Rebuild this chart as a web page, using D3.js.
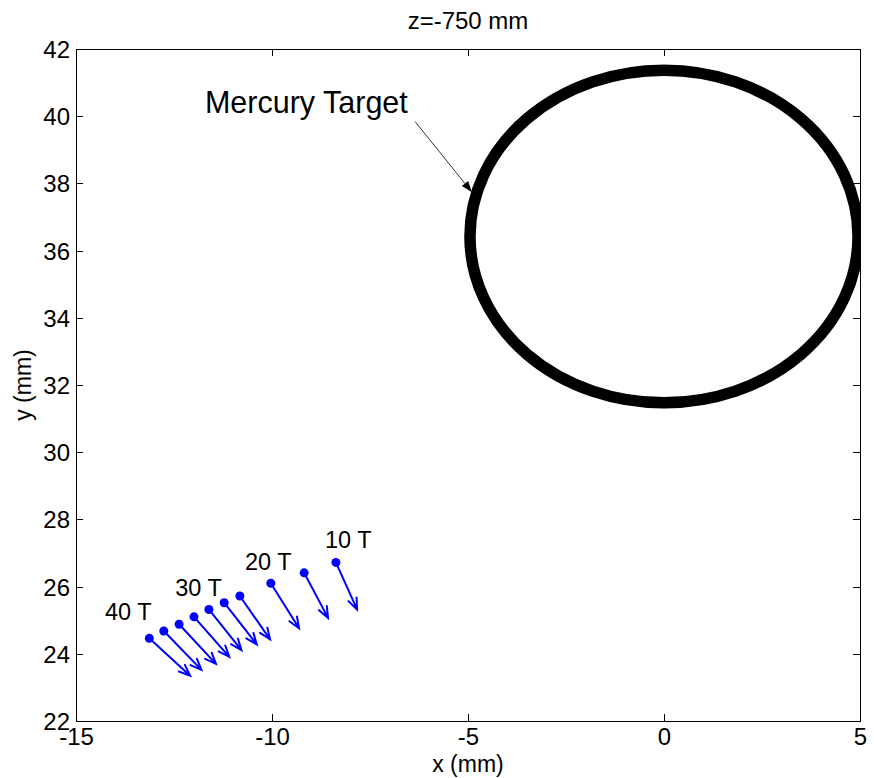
<!DOCTYPE html>
<html>
<head>
<meta charset="utf-8">
<script src="https://cdn.jsdelivr.net/npm/d3@7"></script>
<style>
  html, body { margin: 0; padding: 0; background: #fff; }
  svg { display: block; font-family: Arial, "Liberation Sans", Helvetica, sans-serif; }
</style>
</head>
<body>
<svg id="chart" width="874" height="778"></svg>
<script>
// Beam centroid positions at z = -750 mm and their drift directions
const pointX = [-13.13, -12.76, -12.37, -11.99, -11.61, -11.22, -10.82, -10.03, -9.18, -8.37];
const pointY = [24.46, 24.68, 24.88, 25.10, 25.32, 25.52, 25.72, 26.10, 26.41, 26.72];
const arrowU = [1.04, 0.96, 0.94, 0.90, 0.83, 0.83, 0.77, 0.72, 0.61, 0.54];
const arrowV = [-1.11, -1.16, -1.18, -1.19, -1.21, -1.24, -1.29, -1.34, -1.34, -1.40];

// Field labels
const fieldLabels = ["10 T", "20 T", "30 T", "40 T"];
const fieldLabelX = [-8.65, -10.69, -12.47, -14.26];
const fieldLabelY = [27.15, 26.49, 25.72, 25.01];

// Mercury target cross-section
const targetCenterX = 0;
const targetCenterY = 36.42;
const targetRadius = 4.95;

// Target annotation
const annotationText = "Mercury Target";
const annotationTextPos = [-11.71, 40.10];
const annotationFrom = [-6.35, 39.84];
const annotationTo = [-4.90, 37.74];

// Axes
const xDomain = [-15, 5];
const yDomain = [22, 42];
const xTicks = [-15, -10, -5, 0, 5];
const yTicks = [22, 24, 26, 28, 30, 32, 34, 36, 38, 40, 42];
const titleText = "z=-750 mm";
const xLabelText = "x (mm)";
const yLabelText = "y (mm)";

const svg = d3.select("#chart");
const plotLeft = 76, plotRight = 860, plotTop = 49, plotBottom = 721;

const x = d3.scaleLinear().domain(xDomain).range([plotLeft, plotRight]);
const y = d3.scaleLinear().domain(yDomain).range([plotBottom, plotTop]);

svg.append("rect").attr("width", 874).attr("height", 778).attr("fill", "#fff");

svg.append("defs").append("clipPath").attr("id", "plotClip")
  .append("rect").attr("x", plotLeft).attr("y", plotTop)
  .attr("width", plotRight - plotLeft).attr("height", plotBottom - plotTop);

const plot = svg.append("g").attr("clip-path", "url(#plotClip)");

// Target ring
plot.append("ellipse")
  .attr("cx", x(targetCenterX))
  .attr("cy", y(targetCenterY))
  .attr("rx", x(targetCenterX + targetRadius) - x(targetCenterX))
  .attr("ry", y(targetCenterY) - y(targetCenterY + targetRadius))
  .attr("fill", "none")
  .attr("stroke", "#000")
  .attr("stroke-width", 11.5);

// Quiver arrows
const blue = "#0000ff";
const headLen = 12, headAng = 22 * Math.PI / 180;
const arrows = plot.append("g").attr("stroke", blue).attr("stroke-width", 2)
  .attr("fill", "none").attr("stroke-linecap", "round");
pointX.forEach((px, i) => {
  const x0 = x(px), y0 = y(pointY[i]);
  const x1 = x(px + arrowU[i]), y1 = y(pointY[i] + arrowV[i]);
  const a = Math.atan2(y1 - y0, x1 - x0);
  const h1 = [x1 - headLen * Math.cos(a - headAng), y1 - headLen * Math.sin(a - headAng)];
  const h2 = [x1 - headLen * Math.cos(a + headAng), y1 - headLen * Math.sin(a + headAng)];
  arrows.append("path")
    .attr("d", `M${x0},${y0}L${x1},${y1}M${h1[0]},${h1[1]}L${x1},${y1}L${h2[0]},${h2[1]}`);
});

plot.append("g").selectAll("circle")
  .data(pointX)
  .join("circle")
  .attr("cx", d => x(d))
  .attr("cy", (d, i) => y(pointY[i]))
  .attr("r", 4.5)
  .attr("fill", blue);

// Field labels
svg.append("g").selectAll("text")
  .data(fieldLabels)
  .join("text")
  .attr("x", (d, i) => x(fieldLabelX[i]))
  .attr("y", (d, i) => y(fieldLabelY[i]))
  .attr("font-size", 23.5)
  .attr("fill", "#000")
  .text(d => d);

// Annotation
svg.append("text")
  .attr("x", x(annotationTextPos[0]))
  .attr("y", y(annotationTextPos[1]))
  .attr("font-size", 30.5)
  .attr("fill", "#000")
  .text(annotationText);
{
  const ax0 = x(annotationFrom[0]), ay0 = y(annotationFrom[1]);
  const ax1 = x(annotationTo[0]), ay1 = y(annotationTo[1]);
  const a = Math.atan2(ay1 - ay0, ax1 - ax0);
  const L = 11, W = 4;
  const bx = ax1 - L * Math.cos(a), by = ay1 - L * Math.sin(a);
  svg.append("line")
    .attr("x1", ax0).attr("y1", ay0).attr("x2", bx).attr("y2", by)
    .attr("stroke", "#333").attr("stroke-width", 1);
  svg.append("path")
    .attr("d", `M${ax1},${ay1}L${bx + W * Math.sin(a)},${by - W * Math.cos(a)}L${bx - W * Math.sin(a)},${by + W * Math.cos(a)}Z`)
    .attr("fill", "#000");
}

// Axes box with inward ticks on all four sides
const tickLen = 7;
const axisG = svg.append("g").attr("stroke", "#000").attr("stroke-width", 1)
  .attr("shape-rendering", "crispEdges");
axisG.append("rect").attr("x", plotLeft).attr("y", plotTop)
  .attr("width", plotRight - plotLeft).attr("height", plotBottom - plotTop).attr("fill", "none");

// Plain hyphen-minus tick text
const tickText = d => String(d);
const xAxisB = d3.axisBottom(x).tickValues(xTicks).tickSize(-tickLen).tickPadding(7).tickFormat(tickText);
const xAxisT = d3.axisTop(x).tickValues(xTicks).tickSize(-tickLen).tickFormat("");
const yAxisL = d3.axisLeft(y).tickValues(yTicks).tickSize(-tickLen).tickPadding(6).tickFormat(tickText);
const yAxisR = d3.axisRight(y).tickValues(yTicks).tickSize(-tickLen).tickFormat("");

function styleAxis(g) {
  g.select(".domain").remove();
  g.selectAll("line").attr("stroke", "#000").attr("shape-rendering", "crispEdges");
  g.selectAll("text").attr("fill", "#000").attr("font-size", 24)
    .attr("font-family", "Arial, 'Liberation Sans', Helvetica, sans-serif");
}

svg.append("g").attr("transform", `translate(0,${plotBottom})`).call(xAxisB).call(styleAxis)
  .selectAll("text").attr("dy", "0.71em");
svg.append("g").attr("transform", `translate(0,${plotTop})`).call(xAxisT).call(styleAxis);
svg.append("g").attr("transform", `translate(${plotLeft},0)`).call(yAxisL).call(styleAxis)
  .selectAll("text").attr("dy", "0.35em");
svg.append("g").attr("transform", `translate(${plotRight},0)`).call(yAxisR).call(styleAxis);

// Title and axis labels
svg.append("text")
  .attr("x", (plotLeft + plotRight) / 2).attr("y", 29)
  .attr("text-anchor", "middle").attr("font-size", 24).attr("fill", "#000")
  .text(titleText);
svg.append("text")
  .attr("x", (plotLeft + plotRight) / 2).attr("y", 772)
  .attr("text-anchor", "middle").attr("font-size", 23).attr("fill", "#000")
  .text(xLabelText);
svg.append("text")
  .attr("transform", `translate(31,${(plotTop + plotBottom) / 2}) rotate(-90)`)
  .attr("text-anchor", "middle").attr("font-size", 23).attr("fill", "#000")
  .text(yLabelText);
</script>
</body>
</html>
